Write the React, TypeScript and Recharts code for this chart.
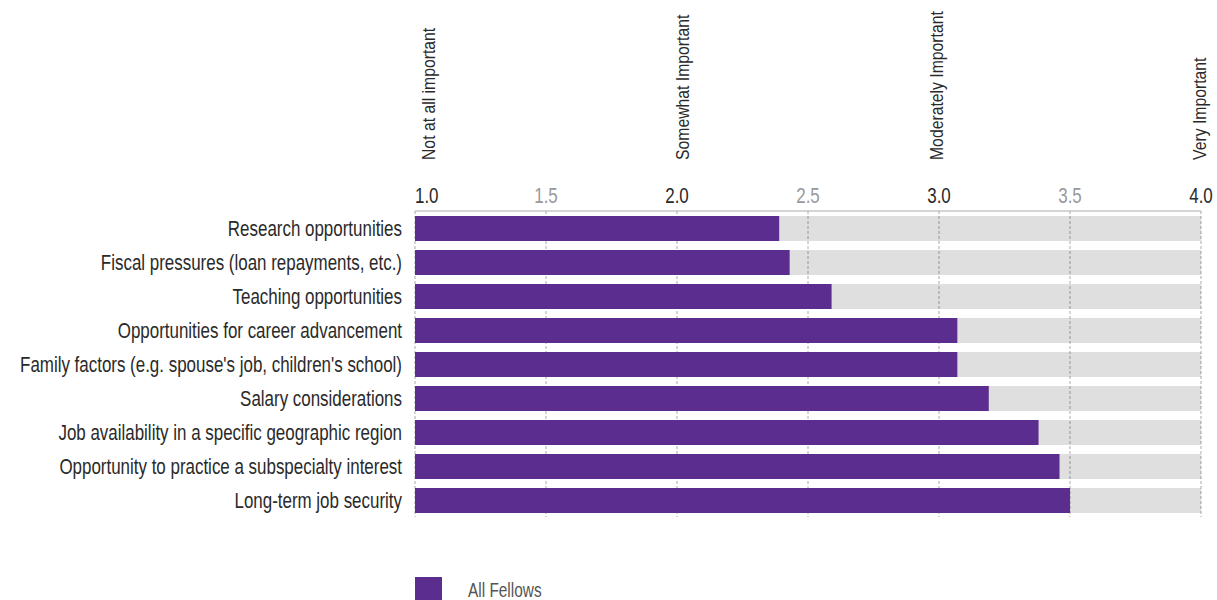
import { Bar, BarChart, CartesianGrid, Legend, XAxis, YAxis } from "recharts";

const factors = [
  "Research opportunities",
  "Fiscal pressures (loan repayments, etc.)",
  "Teaching opportunities",
  "Opportunities for career advancement",
  "Family factors (e.g. spouse's job, children's school)",
  "Salary considerations",
  "Job availability in a specific geographic region",
  "Opportunity to practice a subspecialty interest",
  "Long-term job security",
];

// mean importance rating, 1 = not at all ... 4 = very
const allFellows = [2.39, 2.43, 2.59, 3.07, 3.07, 3.19, 3.38, 3.46, 3.5];

const scaleTicks = [1, 1.5, 2, 2.5, 3, 3.5, 4];
const scaleLabels = ["Not at all important", "Somewhat Important", "Moderately Important", "Very Important"];
const seriesName = "All Fellows";

const data = factors.map((factor, i) => ({ factor, score: allFellows[i] }));

// no condensed face is installed, so squeeze Liberation Sans horizontally
const FONT = "'Liberation Sans', Arial, sans-serif";
const SQUEEZE = 0.77;
const PURPLE = "#5b2d8e";
const INK = "#2a2a2a";
// small horizontal nudges so the rotated labels sit where the original put them
const LABEL_NUDGE = [20, 12, 4, 5];

function ScaleTick(props: any) {
  const { x, y, payload, index } = props;
  const v: number = payload.value;
  const whole = Number.isInteger(v);
  const label = whole ? scaleLabels[v - 1] : null;
  return (
    <g>
      <text
        transform={`translate(${x},${y}) scale(${SQUEEZE},1)`}
        textAnchor={index === 0 ? "start" : "middle"}
        fontSize={22}
        fill={whole ? INK : "#999"}
      >
        {v.toFixed(1)}
      </text>
      {label && (
        <text
          transform={`translate(${x + LABEL_NUDGE[v - 1]},160) rotate(-90) scale(0.83,1)`}
          textAnchor="start"
          fontSize={19}
          fill={INK}
        >
          {label}
        </text>
      )}
    </g>
  );
}

function FactorTick(props: any) {
  const { x, y, payload } = props;
  return (
    <text
      transform={`translate(${x},${y}) scale(${SQUEEZE},1)`}
      textAnchor="end"
      dy="0.36em"
      fontSize={22}
      fill={INK}
    >
      {payload.value}
    </text>
  );
}

function LegendBox(props: any) {
  const items = props.payload || [];
  return (
    <div
      style={{
        height: 83,
        boxSizing: "border-box",
        paddingTop: 60,
        paddingLeft: 415,
        display: "flex",
        alignItems: "flex-start",
      }}
    >
      {items.map((it: any) => (
        <div key={it.value} style={{ display: "flex", alignItems: "center", height: 23 }}>
          <span style={{ width: 27, height: 23, background: it.color, display: "inline-block" }} />
          <span
            style={{
              marginLeft: 26,
              fontSize: 20,
              color: "#555",
              lineHeight: "21px",
              marginTop: 3,
              display: "inline-block",
              transform: `scaleX(${SQUEEZE})`,
              transformOrigin: "left center",
              whiteSpace: "nowrap",
            }}
          >
            {it.value}
          </span>
        </div>
      ))}
    </div>
  );
}

export default function App() {
  return (
    <div style={{ position: "absolute", left: 0, top: 0, width: 1217, height: 600, fontFamily: FONT }}>
      <BarChart
        width={1217}
        height={600}
        data={data}
        layout="vertical"
        margin={{ top: 0, right: 16, bottom: 0, left: 0 }}
        barSize={25}
      >
        <CartesianGrid horizontal={false} stroke="#aaa" strokeDasharray="3 2" />
        <XAxis
          type="number"
          orientation="top"
          domain={[1, 4]}
          ticks={scaleTicks}
          interval={0}
          height={211}
          tickLine={false}
          tickSize={0}
          tickMargin={8}
          axisLine={{ stroke: "#aaa" }}
          tick={<ScaleTick />}
        />
        <YAxis
          type="category"
          dataKey="factor"
          width={415}
          interval={0}
          tickLine={false}
          axisLine={false}
          tickSize={0}
          tickMargin={13}
          tick={<FactorTick />}
        />
        <Legend verticalAlign="bottom" align="left" content={<LegendBox />} />
        <Bar
          dataKey="score"
          name={seriesName}
          fill={PURPLE}
          background={{ fill: "#000", fillOpacity: 0.125 }}
          isAnimationActive={false}
        />
      </BarChart>
    </div>
  );
}
